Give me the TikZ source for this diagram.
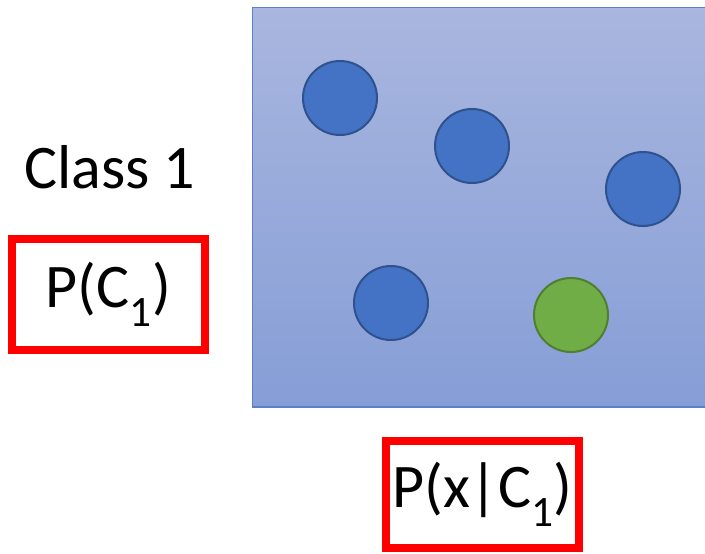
\documentclass[tikz,border=0pt]{standalone}
\usepackage{fontspec}
\setmainfont{Carlito}
\usetikzlibrary{positioning}
\definecolor{areatop}{HTML}{A9B6DF}
\definecolor{areabot}{HTML}{869ED6}
\definecolor{arealine}{HTML}{5B7FCC}
\definecolor{dotblue}{HTML}{4472C4}
\definecolor{dotline}{HTML}{2F528F}
\definecolor{dotgreen}{HTML}{70AD47}
\definecolor{greenline}{HTML}{507E32}
\definecolor{probred}{HTML}{FF0000}
\newcommand{\bigtxt}{\fontsize{62}{74}\selectfont}
\tikzset{
  pnt/.style={
    circle, draw=dotline, fill=dotblue, line width=2pt,
    minimum size=74pt, inner sep=0pt
  },
  pntg/.style={pnt, draw=greenline, fill=dotgreen},
  prob/.style={
    draw=probred, line width=8pt, inner sep=0pt,
    minimum width=193pt, font=\bigtxt
  },
  lbl/.style={font=\bigtxt, inner sep=0pt}
}

\begin{document}
\begin{tikzpicture}[x=1pt, y=-1pt]
  \useasboundingbox (0,0) rectangle (705,554);

  % sample space
  \path[top color=areatop, bottom color=areabot, draw=arealine, line width=1.5pt]
    (252.5,7.5) rectangle (707,407);

  \node[pnt]  (p1) at (340,98)  {};
  \node[pnt]  (p2) at (472,146) {};
  \node[pnt]  (p3) at (643,189) {};
  \node[pnt]  (p4) at (391,303) {};
  \node[pntg] (x)  at (571,315) {};

  % labels
  \node[lbl, anchor=base] (cls) at (110,188) {Class 1};
  \node[prob, minimum height=111pt] (prior) at (108.5,294.5) {P(C\textsubscript{1})};
  \node[prob, minimum height=107pt] (like)  at (482.5,494.5) {P(x|C\textsubscript{1})};
\end{tikzpicture}
\end{document}
